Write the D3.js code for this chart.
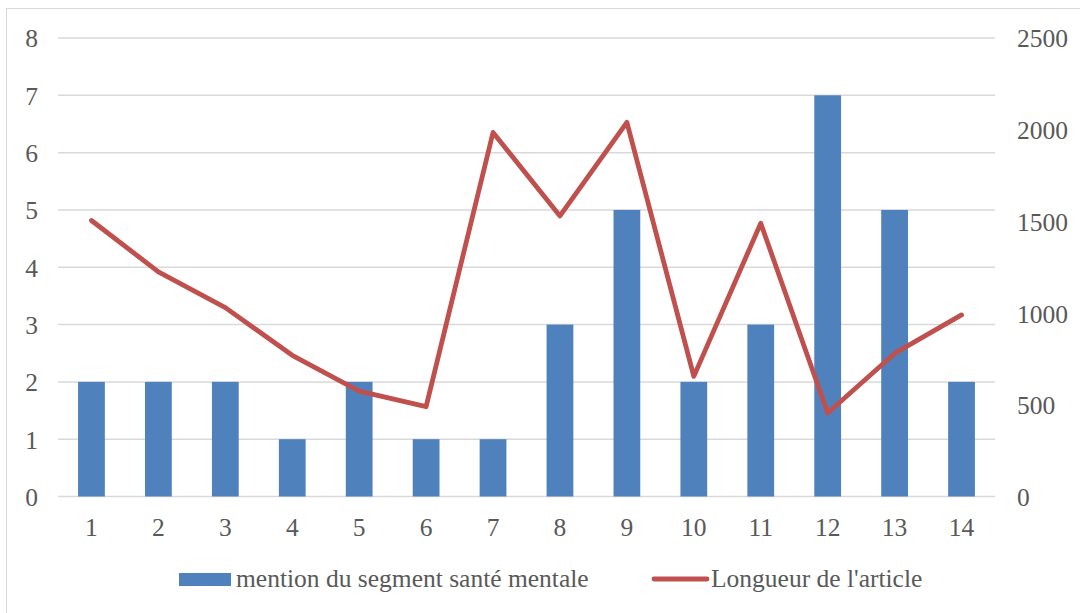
<!DOCTYPE html>
<html><head><meta charset="utf-8">
<script src="https://cdn.jsdelivr.net/npm/d3@7"></script>
<style>body{margin:0;background:#fff;} svg{display:block;}</style>
</head><body>
<svg id="c" width="1080" height="613"></svg>
<script>
const categories = ["1","2","3","4","5","6","7","8","9","10","11","12","13","14"];
const mentions = [2,2,2,1,2,1,1,3,5,2,3,7,5,2];
const longueur = [1505,1225,1030,770,575,490,1985,1530,2040,655,1490,455,780,990];
const leftTicks = [0,1,2,3,4,5,6,7,8];
const rightTicks = [0,500,1000,1500,2000,2500];
const seriesNames = ["mention du segment santé mentale","Longueur de l'article"];

(function(){
const svg = d3.select("#c");
const font = "'Liberation Serif', serif";
const fs = 25.5;
const txt = "#595959";
const pl = 58, pr = 995, pt = 38, pb = 496.5;

svg.append("rect").attr("x",6.5).attr("y",8.5).attr("width",1080).attr("height",620)
  .attr("fill","none").attr("stroke","#d9d9d9").attr("stroke-width",1);

const x = d3.scaleBand().domain(categories).range([pl,pr]).paddingInner(0.6).paddingOuter(0.3);
const yL = d3.scaleLinear().domain([0,8]).range([pb,pt]);
const yR = d3.scaleLinear().domain([0,2500]).range([pb,pt]);

svg.append("g").selectAll("line").data(leftTicks).join("line")
  .attr("x1",pl).attr("x2",pr).attr("y1",d=>yL(d)).attr("y2",d=>yL(d))
  .attr("stroke","#d9d9d9").attr("stroke-width",1.5);

const gl = svg.append("g").attr("transform",`translate(${pl-20},0)`)
  .call(d3.axisLeft(yL).tickValues(leftTicks).tickSize(0).tickPadding(0).tickFormat(d3.format("d")));
gl.select(".domain").remove();
gl.selectAll("text").attr("font-family",font).attr("font-size",fs).attr("fill",txt).attr("dy","0.35em");

const gr = svg.append("g").attr("transform",`translate(${pr+22},0)`)
  .call(d3.axisRight(yR).tickValues(rightTicks).tickSize(0).tickPadding(0).tickFormat(d3.format("d")));
gr.select(".domain").remove();
gr.selectAll("text").attr("font-family",font).attr("font-size",fs).attr("fill",txt).attr("dy","0.35em");

const gb = svg.append("g").attr("transform",`translate(0,${pb+19})`)
  .call(d3.axisBottom(x).tickSize(0).tickPadding(0));
gb.select(".domain").remove();
gb.selectAll("text").attr("font-family",font).attr("font-size",fs).attr("fill",txt).attr("dy","0.8em");

svg.append("g").selectAll("rect").data(mentions).join("rect")
  .attr("x",(d,i)=>x(categories[i])).attr("width",x.bandwidth())
  .attr("y",d=>yL(d)).attr("height",d=>yL(0)-yL(d)).attr("fill","#4f81bd");

const line = d3.line().x((d,i)=>x(categories[i])+x.bandwidth()/2).y(d=>yR(d));
svg.append("path").datum(longueur).attr("d",line).attr("fill","none")
  .attr("stroke","#c0504d").attr("stroke-width",4.8).attr("stroke-linejoin","round").attr("stroke-linecap","round");

const lg = svg.append("g");
lg.append("rect").attr("x",179).attr("y",573).attr("width",52).attr("height",13).attr("fill","#4f81bd");
lg.append("text").attr("x",236).attr("y",587).text(seriesNames[0])
  .attr("font-family",font).attr("font-size",fs).attr("fill",txt);
lg.append("line").attr("x1",654).attr("x2",707).attr("y1",579).attr("y2",579)
  .attr("stroke","#c0504d").attr("stroke-width",4.8).attr("stroke-linecap","round");
lg.append("text").attr("x",711).attr("y",587).text(seriesNames[1])
  .attr("font-family",font).attr("font-size",fs).attr("fill",txt);
})();
</script>
</body></html>
